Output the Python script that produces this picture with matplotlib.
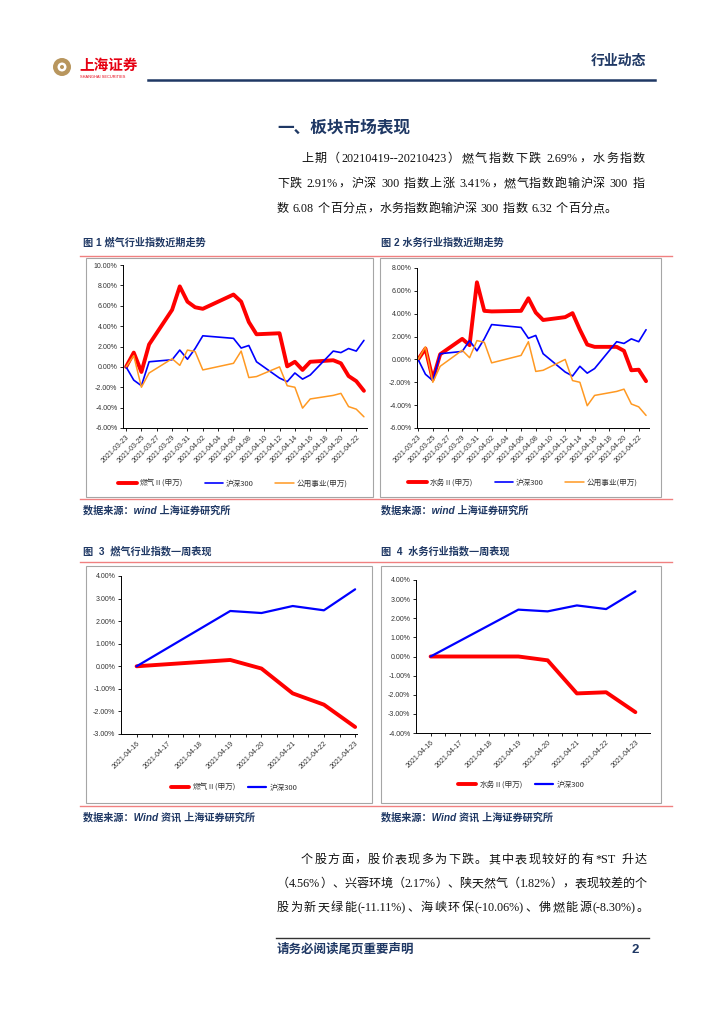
import re
import numpy as np
import pandas as pd
import matplotlib
matplotlib.use('Agg')
import matplotlib.pyplot as plt
from matplotlib.patches import Rectangle, Circle
from matplotlib.lines import Line2D
from matplotlib.ticker import FuncFormatter, FixedLocator
from matplotlib.transforms import IdentityTransform

plt.rcParams['font.family'] = ['Liberation Sans', 'Noto Sans CJK SC']
plt.rcParams['axes.unicode_minus'] = False

# ---- 近期走势 (交易日, 区间涨跌幅 %) ----
month_days = ['2021-03-23', '2021-03-24', '2021-03-25', '2021-03-26', '2021-03-29',
              '2021-03-30', '2021-03-31', '2021-04-01', '2021-04-02', '2021-04-06',
              '2021-04-07', '2021-04-08', '2021-04-09', '2021-04-12', '2021-04-13',
              '2021-04-14', '2021-04-15', '2021-04-16', '2021-04-19', '2021-04-20',
              '2021-04-21', '2021-04-22', '2021-04-23']
gas_month = [0, 1.4, -0.5, 2.2, 5.6, 7.9, 6.4, 5.85, 5.7, 7.1, 6.4, 4.4, 3.2,
             3.3, 0.05, 0.5, -0.3, 0.5, 0.65, 0.35, -0.9, -1.4, -2.35]
water_month = [0, 0.95, -1.75, 0.45, 1.8, 1.25, 6.75, 4.25, 4.2, 4.25, 5.35, 4.1, 3.45,
               3.7, 4.05, 2.6, 1.3, 1.1, 1.1, 0.75, -0.95, -0.9, -1.9]
hs300_month = [0, -1.3, -1.85, 0.5, 0.7, 1.65, 0.75, 1.8, 3.05, 2.8, 1.85, 2.1, 0.5,
               -1.1, -1.45, -0.6, -1.2, -0.8, 1.55, 1.4, 1.8, 1.55, 2.6]
utility_month = [0, 1.1, -2.0, -0.6, 0.8, 0.15, 1.65, 1.5, -0.3, 0.35, 1.55, -1.05, -0.95,
                 0.0, -1.85, -2.0, -4.05, -3.15, -2.8, -2.6, -3.9, -4.15, -4.9]

# ---- 一周表现 ----
week_days = ['2021-04-16', '2021-04-19', '2021-04-20', '2021-04-21', '2021-04-22', '2021-04-23']
gas_week = [0, 0.28, -0.1, -1.2, -1.7, -2.69]
water_week = [0, 0.0, -0.2, -1.93, -1.87, -2.91]
hs300_week = [0, 2.45, 2.36, 2.67, 2.48, 3.41]

month_labels = pd.date_range('2021-03-23', '2021-04-22', freq='2D')
week_labels = pd.date_range('2021-04-16', '2021-04-23', freq='D')

para1 = ['上期（20210419--20210423）燃气指数下跌 2.69%，水务指数',
         '下跌 2.91%，沪深 300 指数上涨 3.41%，燃气指数跑输沪深 300 指',
         '数 6.08 个百分点，水务指数跑输沪深 300 指数 6.32 个百分点。']
para2 = ['个股方面，股价表现多为下跌。其中表现较好的有*ST 升达',
         '（4.56%）、兴蓉环境（2.17%）、陕天然气（1.82%），表现较差的个',
         '股为新天绿能(-11.11%)、海峡环保(-10.06%)、佛燃能源(-8.30%)。']

NAVY = '#1F3864'
RED = '#FF0000'
BLUE = '#0000FF'
ORANGE = '#FF9922'
PINK = '#F08080'
BODY = ['Liberation Serif', 'Noto Sans CJK SC']
LEGEND_FONT = {'family': ['Noto Sans CJK SC', 'Liberation Sans'], 'size': 5.5}

W, H = 724, 1024
fig = plt.figure(figsize=(W / 100, H / 100), dpi=100)


def fx(x):
    return x / W


def fy(y):
    return 1 - y / H


def hline(x0, x1, y, color, lw):
    fig.add_artist(Line2D([fx(x0), fx(x1)], [fy(y), fy(y)], color=color, lw=lw))


def box(x0, y0, x1, y1):
    fig.add_artist(Rectangle((fx(x0), fy(y1)), fx(x1) - fx(x0), fy(y0) - fy(y1),
                             fill=False, ec='#A6A6A6', lw=0.8))


def justify(x0, x1, y, s, size=8.7):
    # 两端对齐：按字/词拆开后均分剩余空间，空格保留固定宽度
    r = fig.canvas.get_renderer()
    tokens = re.findall(r'[A-Za-z0-9.%*\-()]+| |\S', s)
    space = size * 100 / 72 * 0.3
    objs, widths = [], []
    for t in tokens:
        if t == ' ':
            objs.append(None)
            widths.append(space)
        else:
            o = fig.text(0, fy(y), t, fontsize=size, va='center', family=BODY, color='#111111')
            objs.append(o)
            widths.append(o.get_window_extent(r).width)
    gap = (x1 - x0 - sum(widths)) / (len(tokens) - 1)
    x = x0
    for o, w in zip(objs, widths):
        if o is not None:
            o.set_x(fx(x))
        x += w + gap


def draw_chart(pos, days, series, t0, xlim, yticks, legend_xy, week=False, colspace=2.8):
    l, t, r, b = pos
    ax = fig.add_axes([fx(l), fy(b), fx(r) - fx(l), fy(t) - fy(b)])
    x = (pd.to_datetime(days) - pd.Timestamp(t0)).days
    for label, values, color, lw in series:
        ax.plot(x, values, color=color, lw=lw, solid_joinstyle='round',
                solid_capstyle='round', label=label)
    ax.set_xlim(*xlim)
    ax.set_ylim(yticks[0], yticks[-1])
    ax.set_yticks(yticks)
    ax.yaxis.set_major_formatter(FuncFormatter(lambda v, p: f'{v:.2f}%'))
    labels = week_labels if week else month_labels
    xt = (labels - pd.Timestamp(t0)).days
    ax.set_xticks(xt)
    ax.set_xticklabels([d.strftime('%Y-%m-%d') for d in labels], rotation=45,
                       ha='right', rotation_mode='anchor')
    if week:
        ax.xaxis.set_minor_locator(FixedLocator(np.arange(0.5, 7, 1)))
        ax.tick_params(axis='x', which='major', length=0)
        ax.tick_params(axis='x', which='minor', length=2.5, width=0.6)
    for s in ['top', 'right']:
        ax.spines[s].set_visible(False)
    for s in ['left', 'bottom']:
        ax.spines[s].set_linewidth(0.7)
    ax.tick_params(labelsize=5, length=2.5, width=0.6, pad=1.5, labelcolor='#333333')
    ax.patch.set_alpha(0)
    ax.legend(loc='center', bbox_to_anchor=(fx(legend_xy[0]), fy(legend_xy[1])),
              bbox_transform=fig.transFigure, ncol=len(series), frameon=False,
              prop=LEGEND_FONT, handlelength=2.4, handletextpad=0.4, columnspacing=colspace,
              labelcolor='#333333')
    return ax


# ---- 页眉 ----
fig.add_artist(Circle((62, H - 67), 9, transform=IdentityTransform(), fc='#B8965E', ec='none'))
fig.add_artist(Circle((62, H - 67), 4.5, transform=IdentityTransform(), fc='white', ec='none'))
fig.add_artist(Circle((62, H - 67), 2, transform=IdentityTransform(), fc='#B8965E', ec='none'))
fig.text(fx(79), fy(66), '上海证券', fontsize=10.5, color='#E60012', weight='bold', va='center')
fig.text(fx(80), fy(76.5), 'SHANGHAI SECURITIES', fontsize=2.8, color='#E60012', va='center')
fig.text(fx(646), fy(61), '行业动态', fontsize=10, color=NAVY, weight='bold', ha='right', va='center')
hline(148, 655, 80, NAVY, 1.8)

# ---- 正文 ----
fig.text(fx(277), fy(128), '一、板块市场表现', fontsize=12, color=NAVY, weight='bold', va='center')
justify(301, 645, 159, para1[0])
justify(277, 645, 184, para1[1])
justify(277, 617, 209, para1[2])

# ---- 图 1 / 图 2 ----
fig.text(fx(83), fy(242), '图 1 燃气行业指数近期走势', fontsize=7.3, color=NAVY, weight='bold', va='center')
fig.text(fx(381), fy(242), '图 2 水务行业指数近期走势', fontsize=7.3, color=NAVY, weight='bold', va='center')
hline(80, 672, 256, PINK, 1.0)
box(86, 258, 373, 497)
box(380, 258, 661, 497)
hline(80, 672, 499, PINK, 1.0)
fig.text(fx(83), fy(510), '数据来源：wind 上海证券研究所', fontsize=7.3, color=NAVY, weight='bold',
         style='italic', va='center')
fig.text(fx(381), fy(510), '数据来源：wind 上海证券研究所', fontsize=7.3, color=NAVY, weight='bold',
         style='italic', va='center')

draw_chart((123, 265, 367, 428), month_days,
           [('燃气Ⅱ(申万)', gas_month, RED, 2.8),
            ('沪深300', hs300_month, BLUE, 1.2),
            ('公用事业(申万)', utility_month, ORANGE, 1.1)],
           '2021-03-23', (-0.4, 31.4), np.arange(-6, 10.1, 2), (233, 484))
draw_chart((417, 268, 649, 428), month_days,
           [('水务Ⅱ(申万)', water_month, RED, 2.8),
            ('沪深300', hs300_month, BLUE, 1.2),
            ('公用事业(申万)', utility_month, ORANGE, 1.1)],
           '2021-03-23', (-0.15, 31.4), np.arange(-6, 8.1, 2), (523, 483))

# ---- 图 3 / 图 4 ----
fig.text(fx(83), fy(551), '图  3  燃气行业指数一周表现', fontsize=7.3, color=NAVY, weight='bold', va='center')
fig.text(fx(381), fy(551), '图  4  水务行业指数一周表现', fontsize=7.3, color=NAVY, weight='bold', va='center')
hline(80, 672, 562, PINK, 1.0)
box(86, 566, 372, 803)
box(381, 566, 661, 803)
hline(80, 672, 806, PINK, 1.0)
fig.text(fx(83), fy(817), '数据来源：Wind 资讯 上海证券研究所', fontsize=7.3, color=NAVY, weight='bold',
         style='italic', va='center')
fig.text(fx(381), fy(817), '数据来源：Wind 资讯 上海证券研究所', fontsize=7.3, color=NAVY, weight='bold',
         style='italic', va='center')

draw_chart((121, 576, 357, 734), week_days,
           [('燃气Ⅱ(申万)', gas_week, RED, 2.8),
            ('沪深300', hs300_week, BLUE, 1.6)],
           '2021-04-16', (-0.5, 7.06), np.arange(-3, 4.1, 1), (234, 788), week=True, colspace=1.6)
draw_chart((416, 580, 650, 733), week_days,
           [('水务Ⅱ(申万)', water_week, RED, 2.8),
            ('沪深300', hs300_week, BLUE, 1.6)],
           '2021-04-16', (-0.5, 7.5), np.arange(-4, 4.1, 1), (521, 785), week=True, colspace=1.6)

# ---- 个股 ----
justify(301, 647, 860, para2[0])
justify(277, 647, 884, para2[1])
justify(277, 649, 908, para2[2])

# ---- 页脚 ----
hline(276, 649, 938, '#333333', 1.0)
fig.text(fx(277), fy(950), '请务必阅读尾页重要声明', fontsize=9, color=NAVY, weight='bold', va='center')
fig.text(fx(632), fy(950), '2', fontsize=9.5, color=NAVY, weight='bold', va='center')

fig.savefig('out.png', dpi=100)
